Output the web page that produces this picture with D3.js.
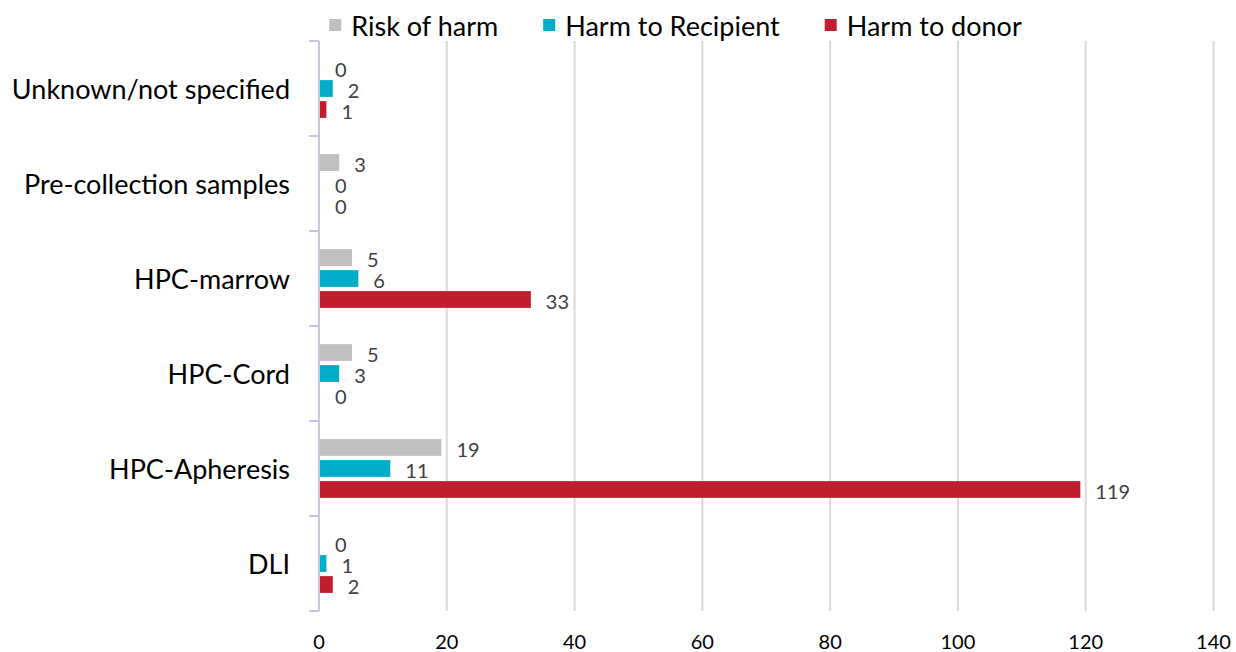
<!DOCTYPE html>
<html>
<head>
<meta charset="utf-8">
<script src="https://cdn.jsdelivr.net/npm/d3@7"></script>
<style>
  html, body { margin: 0; padding: 0; background: #ffffff; }
  svg { display: block; }
  text { font-family: Lato, "Open Sans", sans-serif; }
</style>
</head>
<body>
<svg id="chart" width="1236" height="652"></svg>
<script>
// ---- data ----
const categories = ["Unknown/not specified", "Pre-collection samples", "HPC-marrow", "HPC-Cord", "HPC-Apheresis", "DLI"];
const seriesNames = ["Risk of harm", "Harm to Recipient", "Harm to donor"];
const riskOfHarm = [0, 3, 5, 5, 19, 0];
const harmToRecipient = [2, 0, 6, 3, 11, 1];
const harmToDonor = [1, 0, 33, 0, 119, 2];
const seriesColors = ["#bfbfbf", "#00acc8", "#be1e2d"];
const xTicks = [0, 20, 40, 60, 80, 100, 120, 140];

const seriesValues = [riskOfHarm, harmToRecipient, harmToDonor];

const svg = d3.select("#chart");
const margin = { left: 319, right: 22, top: 41, bottom: 41 };
const W = 1236, H = 652;

const x = d3.scaleLinear().domain([0, 140]).range([margin.left, 1213.5]);
const y = d3.scaleBand().domain(categories).range([margin.top, H - margin.bottom]).padding(0);
const bw = y.bandwidth();
const ySub = d3.scaleBand().domain(seriesNames)
  .range([bw / 2 - 31.5, bw / 2 + 31.5]).paddingInner(0.2).paddingOuter(0.1);

// gridlines
svg.append("g").selectAll("line")
  .data(xTicks.filter(d => d > 0))
  .join("line")
  .attr("x1", d => x(d)).attr("x2", d => x(d))
  .attr("y1", margin.top).attr("y2", H - margin.bottom)
  .attr("stroke", "#d9d9d9").attr("stroke-width", 2);

// x tick labels
svg.append("g").selectAll("text")
  .data(xTicks)
  .join("text")
  .attr("x", d => x(d)).attr("y", 649)
  .attr("text-anchor", "middle")
  .attr("font-size", 20).attr("fill", "#000")
  .text(d => d);

// bars
const groups = svg.append("g").selectAll("g")
  .data(categories)
  .join("g")
  .attr("transform", d => `translate(0,${y(d)})`);

groups.each(function(cat, ci) {
  const g = d3.select(this);
  seriesNames.forEach((s, si) => {
    const v = seriesValues[si][ci];
    if (v > 0) {
      g.append("rect")
        .attr("x", x(0) + 1)
        .attr("y", ySub(s))
        .attr("width", x(v) - x(0))
        .attr("height", ySub.bandwidth())
        .attr("fill", seriesColors[si]);
    }
    g.append("text")
      .attr("x", x(v) + 16)
      .attr("y", ySub(s) + ySub.bandwidth() / 2 + 1)
      .attr("dominant-baseline", "central")
      .attr("font-size", 20).attr("fill", "#404040")
      .text(v);
  });
});

// left axis line and ticks
const axisColor = "#c9c4e4";
svg.append("line")
  .attr("x1", x(0)).attr("x2", x(0))
  .attr("y1", margin.top).attr("y2", H - margin.bottom)
  .attr("stroke", axisColor).attr("stroke-width", 2);
const boundaries = categories.map(c => y(c)).concat([H - margin.bottom]);
svg.append("g").selectAll("line")
  .data(boundaries)
  .join("line")
  .attr("x1", x(0) - 10).attr("x2", x(0))
  .attr("y1", d => d).attr("y2", d => d)
  .attr("stroke", axisColor).attr("stroke-width", 2);

// category labels
svg.append("g").selectAll("text")
  .data(categories)
  .join("text")
  .attr("x", 290)
  .attr("y", d => y(d) + bw / 2)
  .attr("text-anchor", "end").attr("dominant-baseline", "central")
  .attr("font-size", 27).attr("fill", "#000")
  .text(d => d);

// legend
const legend = svg.append("g");
let lx = 0;
seriesNames.forEach((s, i) => {
  const it = legend.append("g");
  it.append("rect").attr("x", 0).attr("y", -6).attr("width", 12).attr("height", 12).attr("fill", seriesColors[i]);
  const t = it.append("text").attr("x", 22).attr("y", 0)
    .attr("dominant-baseline", "central").attr("font-size", 27).attr("fill", "#000").text(s);
  const w = 22 + t.node().getComputedTextLength();
  it.attr("transform", `translate(${lx},25)`);
  lx += w + 45;
});
const totalW = lx - 45;
legend.attr("transform", `translate(${675.5 - totalW / 2},0)`);
</script>
</body>
</html>
